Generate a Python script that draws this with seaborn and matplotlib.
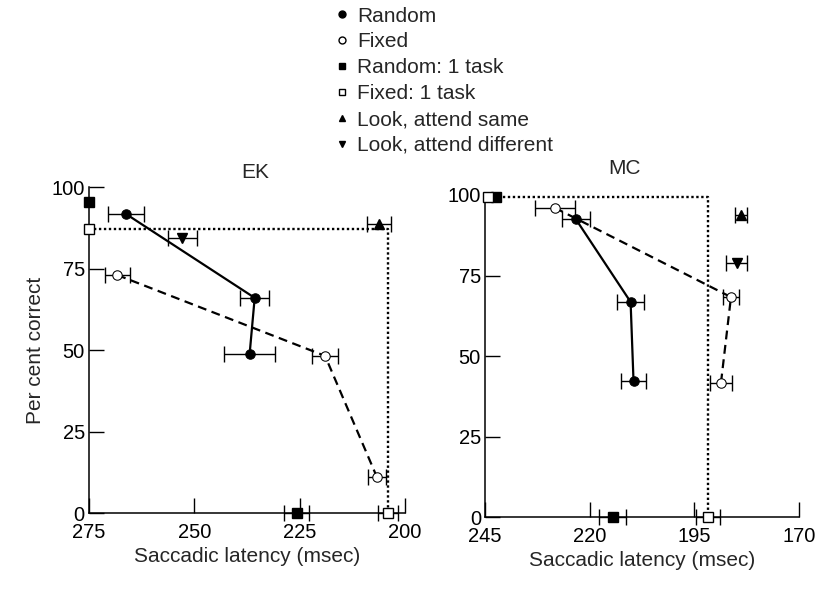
import matplotlib
matplotlib.use("Agg")
import matplotlib.pyplot as plt
from matplotlib.lines import Line2D
import seaborn as sns

# ---------------- data ----------------
# EK panel
ek_random_lat = [266.2, 235.7, 236.9]
ek_random_pct = [91.7, 66.0, 48.8]
ek_random_err = [4.2, 3.4, 6.0]
ek_fixed_lat = [268.3, 219.0, 206.7]
ek_fixed_pct = [73.0, 48.2, 11.0]
ek_fixed_err = [3.0, 3.0, 2.2]
ek_rand1_lat = [275.0, 225.7]
ek_rand1_pct = [95.5, 0.0]
ek_rand1_err = [0.0, 3.0]
ek_fixed1_lat = [275.0, 204.0]
ek_fixed1_pct = [87.0, 0.0]
ek_fixed1_err = [0.0, 2.4]
ek_same_lat = [206.2]
ek_same_pct = [88.6]
ek_same_err = [2.9]
ek_diff_lat = [252.9]
ek_diff_pct = [84.4]
ek_diff_err = [3.4]

# MC panel
mc_random_lat = [223.3, 210.2, 209.5]
mc_random_pct = [92.5, 66.8, 42.2]
mc_random_err = [3.4, 3.2, 2.9]
mc_fixed_lat = [228.3, 186.2, 188.6]
mc_fixed_pct = [96.0, 68.3, 41.6]
mc_fixed_err = [4.7, 2.0, 2.7]
mc_rand1_lat = [242.4, 214.5]
mc_rand1_pct = [99.5, 0.0]
mc_rand1_err = [0.0, 3.2]
mc_fixed1_lat = [244.3, 191.7]
mc_fixed1_pct = [99.5, 0.0]
mc_fixed1_err = [0.0, 2.9]
mc_same_lat = [183.8]
mc_same_pct = [93.8]
mc_same_err = [1.4]
mc_diff_lat = [184.8]
mc_diff_pct = [78.9]
mc_diff_err = [2.5]

ek_xticks = [275, 250, 225, 200]
mc_xticks = [245, 220, 195, 170]
yticks = [0, 25, 50, 75, 100]

legend_labels = ["Random", "Fixed", "Random: 1 task", "Fixed: 1 task",
                 "Look, attend same", "Look, attend different"]

# ---------------- style ----------------
sns.set_theme(style="ticks")
plt.rcParams["font.family"] = ["Liberation Sans", "DejaVu Sans"]

fig = plt.figure(figsize=(8.32, 5.89), dpi=100)
ax_ek = fig.add_axes([0.107, 0.129, 0.380, 0.5535])
ax_mc = fig.add_axes([0.583, 0.122, 0.377, 0.547])

MS = 6.8
CAP = 6


def errbars(ax, x, y, e):
    xs = [a for a, b in zip(x, e) if b > 0]
    ys = [a for a, b in zip(y, e) if b > 0]
    es = [b for b in e if b > 0]
    if xs:
        ax.errorbar(xs, ys, xerr=es, fmt="none", ecolor="black",
                    elinewidth=1.0, capsize=CAP, capthick=1.0, clip_on=False, zorder=2)


def panel(ax, d, xlim, xticks):
    (r_x, r_y, r_e, f_x, f_y, f_e, r1_x, r1_y, r1_e, f1_x, f1_y, f1_e,
     s_x, s_y, s_e, df_x, df_y, df_e) = d
    # dotted single-task rectangle
    ax.plot([f1_x[0], f1_x[1], f1_x[1]], [f1_y[0], f1_y[0], f1_y[1]],
            color="black", linestyle=(0, (1, 1.1)), linewidth=1.7, clip_on=False, zorder=1)
    for x, y, e in [(r_x, r_y, r_e), (f_x, f_y, f_e), (r1_x, r1_y, r1_e),
                    (f1_x, f1_y, f1_e), (s_x, s_y, s_e), (df_x, df_y, df_e)]:
        errbars(ax, x, y, e)
    sns.lineplot(x=r_x, y=r_y, sort=False, estimator=None, ax=ax, color="black",
                 linewidth=1.6, marker="o", markersize=MS, markerfacecolor="black",
                 markeredgecolor="black", clip_on=False, zorder=3)
    sns.lineplot(x=f_x, y=f_y, sort=False, estimator=None, ax=ax, color="black",
                 linewidth=1.6, linestyle=(0, (4, 2.5)), marker="o", markersize=MS,
                 markerfacecolor="white", markeredgecolor="black", clip_on=False, zorder=3)
    for x, y, m, fc in [(r1_x, r1_y, "s", "black"), (f1_x, f1_y, "s", "white"),
                        (s_x, s_y, "^", "black"), (df_x, df_y, "v", "black")]:
        ax.plot(x, y, linestyle="none", marker=m, markersize=MS, markerfacecolor=fc,
                markeredgecolor="black", markeredgewidth=1.0, clip_on=False, zorder=4)
    ax.set_xlim(*xlim)
    ax.set_ylim(0, 100)
    ax.set_xticks(xticks)
    ax.set_yticks(yticks)
    ax.tick_params(axis="both", direction="in", length=11, width=1.0,
                   labelsize=14.5, colors="black")
    ax.tick_params(axis="x", pad=7)
    ax.tick_params(axis="y", pad=3)
    for s in ["top", "right"]:
        ax.spines[s].set_visible(False)
    for s in ["left", "bottom"]:
        ax.spines[s].set_linewidth(1.1)
        ax.spines[s].set_color("black")
    ax.set_facecolor("white")
    ax.set_xlabel("Saccadic latency (msec)", fontsize=15, labelpad=4)


panel(ax_ek, (ek_random_lat, ek_random_pct, ek_random_err,
              ek_fixed_lat, ek_fixed_pct, ek_fixed_err,
              ek_rand1_lat, ek_rand1_pct, ek_rand1_err,
              ek_fixed1_lat, ek_fixed1_pct, ek_fixed1_err,
              ek_same_lat, ek_same_pct, ek_same_err,
              ek_diff_lat, ek_diff_pct, ek_diff_err), (275, 200), ek_xticks)
panel(ax_mc, (mc_random_lat, mc_random_pct, mc_random_err,
              mc_fixed_lat, mc_fixed_pct, mc_fixed_err,
              mc_rand1_lat, mc_rand1_pct, mc_rand1_err,
              mc_fixed1_lat, mc_fixed1_pct, mc_fixed1_err,
              mc_same_lat, mc_same_pct, mc_same_err,
              mc_diff_lat, mc_diff_pct, mc_diff_err), (245, 170), mc_xticks)

ax_ek.set_ylabel("Per cent correct", fontsize=15, labelpad=5)
ax_mc.set_ylabel("")

fig.text(255 / 832, 1 - 172 / 589, "EK", fontsize=15, ha="center", va="center")
fig.text(625 / 832, 1 - 169 / 589, "MC", fontsize=15, ha="center", va="center")

handles = [
    Line2D([], [], linestyle="none", marker="o", markersize=5, markerfacecolor="black", markeredgecolor="black"),
    Line2D([], [], linestyle="none", marker="o", markersize=5, markerfacecolor="white", markeredgecolor="black"),
    Line2D([], [], linestyle="none", marker="s", markersize=5, markerfacecolor="black", markeredgecolor="black"),
    Line2D([], [], linestyle="none", marker="s", markersize=5, markerfacecolor="white", markeredgecolor="black"),
    Line2D([], [], linestyle="none", marker="^", markersize=5, markerfacecolor="black", markeredgecolor="black"),
    Line2D([], [], linestyle="none", marker="v", markersize=5, markerfacecolor="black", markeredgecolor="black"),
]
fig.legend(handles, legend_labels, loc="upper left", bbox_to_anchor=(0.388, 1.010),
           frameon=False, fontsize=15, handlelength=0.6, handletextpad=0.45,
           labelspacing=0.33, borderaxespad=0.2)

fig.savefig("out.png", dpi=100, facecolor="white")
